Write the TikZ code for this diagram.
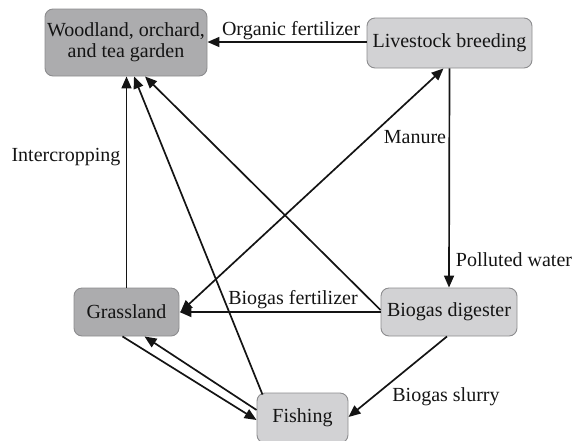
\documentclass[tikz,border=0pt]{standalone}
\usepackage{fontspec}
\setmainfont{Liberation Serif}
\newfontfamily\diagfont{Liberation Serif}
\usetikzlibrary{arrows.meta}
\definecolor{darkbox}{RGB}{172,172,174}
\definecolor{lightbox}{RGB}{210,210,212}
\definecolor{boxedge}{RGB}{140,140,142}
\definecolor{ink}{RGB}{20,20,20}
\tikzset{
  box/.style={draw=boxedge, line width=0.9pt, rounded corners=8pt, text=ink,
    inner sep=0pt, font=\diagfont\fontsize{20}{21}\selectfont, align=center},
  darkb/.style={box, fill=darkbox},
  lightb/.style={box, fill=lightbox},
  conn/.style={draw=ink, line width=1.7pt, -{Triangle[length=12pt,width=10pt]}},
  lbl/.style={text=ink, inner sep=0pt, font=\diagfont\fontsize{20}{21}\selectfont}
}
\begin{document}
\begin{tikzpicture}[x=1pt,y=-1pt]
\useasboundingbox (0,0) rectangle (575,440);
\begin{scope}
\clip (0,0) rectangle (575,440);
\node[darkb, minimum width=162pt, minimum height=67pt] (W) at (126,42.5) {Woodland, orchard,\\and tea garden};
\node[lightb, minimum width=165pt, minimum height=50pt] (L) at (449.5,43) {Livestock breeding};
\node[darkb, minimum width=105pt, minimum height=48pt] (G) at (126.5,312) {Grassland};
\node[lightb, minimum width=136pt, minimum height=48pt] (B) at (449,312) {Biogas digester};
\node[lightb, minimum width=91pt, minimum height=50pt] (F) at (302.5,418) {Fishing};
\end{scope}

% connectors
\draw[conn] (L.west |- 0,42) -- (W.east |- 0,42);
\draw[conn] (L.south) -- (B.north);
\draw[conn] (G.north) -- (G.north |- W.south);
\draw[conn] ([xshift=-40pt,yshift=-2pt]F.north) -- ([xshift=8pt]W.south);
\draw[conn] ([yshift=2pt]B.west) -- ([xshift=19pt]W.south);
\draw[conn] (B.west) -- (G.east);
\draw[conn, {Triangle[length=12pt,width=10pt]}-{Triangle[length=12pt,width=10pt]}] ([xshift=1pt]G.east) -- ([xshift=-6pt]L.south);
\draw[conn] ([xshift=-4pt]G.south) -- ([yshift=-2pt]F.west);
\draw[conn] ([yshift=8pt]F.west) -- ([xshift=18pt]G.south);
\draw[conn] ([xshift=-2pt]B.south) -- ([yshift=1pt]F.east);

% labels
\node[lbl] (lorg) at (291,31) {Organic fertilizer};
\node[lbl] (lman) at (415,137) {Manure};
\node[lbl] (lpol) at (514,260) {Polluted water};
\node[lbl] (lint) at (66,157) {Intercropping};
\node[lbl] (lbf) at (293,300) {Biogas fertilizer};
\node[lbl] (lbs) at (446,397) {Biogas slurry};
\end{tikzpicture}
\end{document}
